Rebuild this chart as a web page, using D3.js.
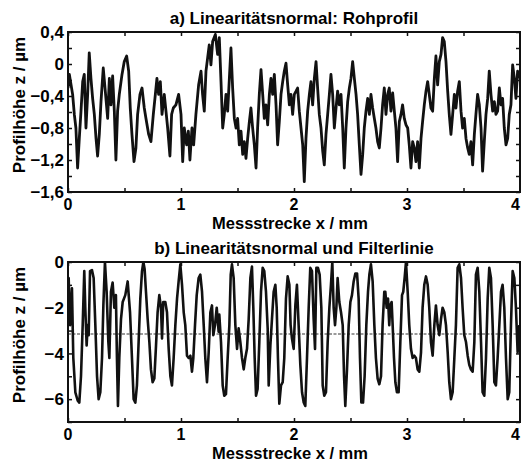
<!DOCTYPE html>
<html lang="de">
<head>
<meta charset="UTF-8">
<title>Linearitätsnormal</title>
<script src="https://cdn.jsdelivr.net/npm/d3@7/dist/d3.min.js"></script>
<style>
  body { margin: 0; background: #fff; }
  svg { display: block; font-family: "Liberation Sans", Arial, sans-serif; font-weight: bold; }
</style>
</head>
<body>
<script>
// a) Rohprofil: x in mm, z in µm
var rawX = [0,0.012,0.041,0.056,0.07,0.085,0.1,0.115,0.13,0.144,0.159,0.174,0.188,0.203,0.218,0.233,0.248,0.262,0.277,0.292,0.312,0.33,0.351,0.366,0.38,0.395,0.41,0.424,0.439,0.454,0.478,0.498,0.519,0.537,0.551,0.566,0.584,0.601,0.616,0.637,0.655,0.675,0.69,0.714,0.734,0.755,0.773,0.787,0.802,0.817,0.832,0.852,0.867,0.882,0.902,0.917,0.932,0.955,0.979,1.0,1.015,1.029,1.05,1.065,1.079,1.097,1.112,1.132,1.156,1.177,1.191,1.206,1.221,1.236,1.25,1.265,1.28,1.304,1.324,1.339,
  1.354,1.369,1.383,1.398,1.413,1.428,1.442,1.457,1.472,1.487,1.501,1.516,1.531,1.546,1.56,1.575,1.59,1.605,1.619,1.634,1.649,1.664,1.678,1.693,1.708,1.723,1.737,1.752,1.767,1.782,1.796,1.811,1.826,1.841,1.855,1.87,1.885,1.9,1.914,1.929,1.944,1.959,1.973,1.988,2.003,2.018,2.032,2.047,2.062,2.077,2.091,2.106,2.121,2.136,2.15,2.165,2.18,2.195,2.209,2.224,2.239,2.254,2.268,2.283,2.298,2.313,2.327,2.342,2.357,2.372,2.386,2.401,2.416,2.431,2.445,2.46,2.475,2.49,2.504,2.519,2.534,2.549,2.563,2.578,2.593,2.608,2.622,2.637,2.652,2.667,
  2.681,2.696,2.711,2.725,2.74,2.755,2.77,2.784,2.799,2.814,2.829,2.843,2.858,2.873,2.888,2.902,2.917,2.932,2.947,2.961,2.976,2.991,3.006,3.02,3.035,3.05,3.065,3.079,3.094,3.109,3.124,3.138,3.153,3.168,3.183,3.197,3.212,3.227,3.242,3.256,3.271,3.286,3.301,3.315,3.33,3.345,3.36,3.374,3.389,3.404,3.419,3.433,3.448,3.463,3.478,3.492,3.507,3.522,3.537,3.551,3.566,3.581,3.596,3.61,3.625,3.64,3.655,3.669,3.684,3.699,3.714,3.728,3.743,3.758,3.773,3.787,3.802,3.817,3.832,3.846,3.861,3.876,3.891,3.905,3.92,3.935,3.95,3.964,3.979,3.994];
var rawZ = [-0.3,-0.13,-0.38,-0.63,-0.8,-1.3,-0.93,-0.59,-0.22,-0.13,-0.8,-0.38,0.14,-0.18,-0.43,-0.63,-0.93,-1.15,-0.88,-0.47,-0.05,-0.34,-0.68,-0.18,-0.51,-0.15,-0.59,-1.2,-0.59,-0.38,-0.13,0.03,0.1,-0.09,-0.55,-0.88,-1.22,-1.05,-0.63,-0.38,-0.3,-0.55,-0.68,-0.88,-0.97,-0.63,-0.38,-0.18,-0.38,-0.22,-0.63,-0.38,-0.59,-0.8,-1.15,-0.63,-0.55,-0.51,-0.38,-0.63,-1.22,-0.8,-1.01,-0.84,-1.2,-0.8,-1.01,-0.63,-0.26,-0.09,-0.38,-0.59,-0.09,0.08,0.24,-0.01,0.28,0.37,0.12,0.33,
  -0.22,-0.8,-0.63,-0.38,-0.59,-0.18,0.2,-0.3,-0.68,-0.8,-0.68,-1.01,-0.84,-1.13,-0.97,-1.18,-0.93,-0.72,-0.55,-0.8,-1.01,-1.3,-0.8,-0.38,-0.07,-0.38,-0.68,-0.51,-0.76,-0.38,-0.18,-0.38,-0.13,-0.51,-1.01,-0.72,-0.38,-0.22,-0.09,0.01,-0.26,-0.51,-0.38,-0.63,-0.38,-0.34,-0.3,-0.59,-0.8,-1.01,-1.47,-0.93,-0.59,-0.38,-0.22,-0.51,-0.18,0.03,-0.3,-0.63,-0.8,-1.09,-1.26,-0.88,-0.63,-0.38,-0.13,-0.38,-0.8,-0.55,-0.34,-0.51,-0.38,-0.8,-1.3,-0.8,-0.47,-0.3,-0.18,0.03,-0.18,-0.38,-0.63,-1.01,-1.38,-1.13,-0.8,-0.59,-0.43,-0.63,
  -0.38,-0.55,-0.68,-0.8,-0.97,-1.05,-0.8,-0.51,-0.3,-0.63,-0.38,-0.3,-0.59,-0.36,-0.59,-0.8,-1.22,-0.72,-0.63,-0.51,-0.68,-0.76,-0.8,-1.01,-1.3,-0.97,-1.05,-1.22,-0.97,-1.3,-0.93,-0.72,-0.51,-0.34,-0.22,-0.38,-0.55,-0.59,-0.18,0.1,-0.26,0.03,0.12,0.33,0.28,0.03,-0.34,-0.63,-0.88,-0.63,-0.38,-0.55,-0.34,-0.22,-0.59,-0.8,-0.68,-0.93,-1.05,-1.13,-0.97,-1.26,-0.88,-0.63,-0.38,-0.51,-0.8,-1.34,-0.97,-0.63,-0.43,-0.09,-0.38,-0.59,-0.47,-0.63,-0.59,-0.3,-0.51,-0.43,-0.8,-1.01,-0.93,-0.63,-0.51,-0.01,-0.18,-0.43,-0.09,-0.18];

// b) Profil nach Filterung
var filtX = [0,0.006,0.018,0.035,0.047,0.065,0.086,0.1,0.115,0.13,0.144,0.153,0.165,0.174,0.183,0.195,0.212,0.227,0.242,0.257,0.271,0.286,0.301,0.313,0.327,0.342,0.357,0.366,0.38,0.395,0.41,0.424,0.433,0.442,0.454,0.469,0.484,0.507,0.528,0.549,0.566,0.581,0.596,0.61,0.625,0.64,0.655,0.667,0.678,0.69,0.705,0.72,0.734,0.749,0.764,0.779,0.793,0.808,0.823,0.832,0.843,0.861,0.876,0.891,0.906,0.92,0.935,0.95,0.965,0.979,0.994,1.009,1.024,1.038,1.053,1.068,1.083,1.097,1.109,1.124,1.139,1.156,1.171,1.186,1.201,1.215,1.23,1.245,1.26,1.274,1.286,1.301,1.316,1.333,
  1.339,1.354,1.369,1.383,1.398,1.413,1.428,1.44,1.451,1.466,1.481,1.496,1.51,1.525,1.54,1.555,1.569,1.584,1.599,1.614,1.628,1.64,1.652,1.664,1.678,1.693,1.708,1.723,1.737,1.752,1.767,1.776,1.791,1.805,1.82,1.835,1.847,1.858,1.87,1.885,1.9,1.914,1.929,1.944,1.959,1.97,1.982,1.997,2.012,2.026,2.041,2.056,2.071,2.086,2.1,2.115,2.13,2.144,2.159,2.174,2.186,2.198,2.212,2.227,2.242,2.254,2.268,2.283,2.298,2.313,2.327,2.339,2.351,2.363,2.375,2.386,2.401,2.416,2.431,2.443,2.454,2.469,2.484,2.499,2.513,2.528,2.543,2.558,2.572,2.584,2.596,2.611,2.625,2.64,2.655,2.667,
  2.681,2.696,2.711,2.725,2.74,2.755,2.77,2.784,2.799,2.808,2.82,2.832,2.843,2.852,2.864,2.873,2.885,2.897,2.911,2.926,2.941,2.956,2.967,2.979,2.991,3.006,3.02,3.035,3.05,3.065,3.079,3.094,3.109,3.124,3.138,3.153,3.168,3.183,3.197,3.212,3.227,3.242,3.256,3.271,3.286,3.301,3.315,3.33,3.345,3.36,3.374,3.389,3.404,3.419,3.433,3.448,3.463,3.478,3.492,3.507,3.522,3.537,3.551,3.566,3.581,3.596,3.61,3.625,3.64,3.655,3.669,3.684,3.699,3.714,3.728,3.743,3.758,3.773,3.787,3.802,3.817,3.832,3.846,3.861,3.876,3.891,3.905,3.92,3.935,3.95,3.964,3.979,3.994];
var filtZ = [-0.8,-0.7,-2.76,-1.15,-4.2,-5.7,-6.07,-6.15,-5.0,-2.76,-0.4,-2.0,-3.65,-2.76,-3.2,-0.4,-0.35,-0.7,-2.76,-5.0,-6.0,-5.7,-4.2,-1.9,0,-1.3,-3.5,-4.2,-1.3,-0.9,-2.0,-1.45,-4.2,-6.3,-4.2,-2.5,-1.75,-1.45,-0.85,-2.2,-4.2,-6.0,-6.15,-5.4,-3.5,-1.6,-0.4,0,-0.3,-1.3,-2.5,-3.5,-4.7,-5.26,-5.1,-3.65,-2.2,-1.45,-2.0,-3.35,-1.75,-1.75,-2.2,-3.8,-5.0,-5.4,-4.2,-2.76,-1.6,-0.85,-0.1,-1.0,-2.2,-2.76,-4.1,-4.2,-4.1,-4.8,-4.2,-2.76,-1.45,-0.7,-0.55,-1.3,-2.76,-4.2,-5.26,-3.95,-2.2,-1.9,-3.2,-2.76,-2.0,-3.05,
  -2.3,-3.5,-5.4,-5.85,-5.78,-4.2,-2.76,-0.55,-0.1,-0.7,-2.76,-3.8,-2.9,-3.5,-4.2,-4.7,-4.2,-3.8,-2.5,-0.7,-0.2,-2.0,-4.2,-5.85,-5.55,-3.5,-1.3,-0.25,-0.4,-1.3,-2.9,-5.4,-3.65,-2.5,-1.3,-1.0,-2.0,-4.2,-6.2,-5.4,-5.26,-4.2,-1.6,-0.63,-1.0,-2.76,-3.35,-3.8,-1.9,-1.0,-2.76,-4.5,-5.7,-6.15,-6.3,-4.2,-2.0,-0.25,-0.4,-2.5,-3.8,-0.25,-0.25,-0.55,-2.0,-5.4,-5.85,-5.7,-3.5,-2.0,-1.0,0,-2.0,-2.76,-2.0,-0.7,-1.75,-2.2,-2.76,-5.0,-6.3,-4.7,-2.76,-1.75,-1.45,-0.85,-0.5,-0.5,-1.6,-4.2,-6.15,-6.15,-5.0,-2.76,-1.3,-0.55,
  -0.1,-0.85,-2.76,-4.2,-5.1,-5.35,-5.0,-2.76,-1.3,-1.3,-2.0,-1.6,-2.76,-1.9,-1.75,-2.76,-4.2,-5.26,-5.7,-5.7,-3.5,-1.45,-1.3,-0.7,0,-1.3,-2.76,-3.8,-4.2,-4.1,-4.2,-4.7,-4.8,-3.95,-2.0,-1.0,-0.63,-1.0,-2.0,-3.5,-4.1,-2.76,-1.9,-2.76,-3.2,-2.5,-2.0,-2.2,-2.76,-3.95,-5.26,-6.0,-5.7,-4.2,-2.76,-0.25,-0.1,-0.7,-2.0,-3.2,-3.5,-4.1,-4.5,-4.7,-4.8,-3.5,-0.55,-0.25,-1.3,-3.5,-5.7,-5.85,-4.2,-1.6,-0.25,-0.7,-2.76,-5.26,-5.4,-4.2,-2.76,-1.3,-1.0,-2.0,-4.2,-6.0,-5.7,-2.76,-0.4,-0.7,-2.0,-3.95,-2.76];
var filterLevel = -3.15;

var xTicks = [0, 1, 2, 3, 4];
var yTicksA = [0.4, 0, -0.4, -0.8, -1.2, -1.6];
var yTicksB = [0, -2, -4, -6];
var titleA = "a) Linearitätsnormal: Rohprofil";
var titleB = "b) Linearitätsnormal und Filterlinie";
var xTitle = "Messstrecke x / mm";
var yTitle = "Profilhöhe z / µm";

var width = 521, height = 462;
var svg = d3.select("body").append("svg").attr("width", width).attr("height", height);

function fmt(v) {
  return d3.format("")(v).replace(".", ",").replace("-", "\u2212");
}

function panel(id, top, yDomain, yTicks, minorStep, xs, zs, title, lineW, filt) {
  var left = 68, right = 520, bottom = top + 160;
  var x = d3.scaleLinear().domain([0, 4]).range([left, right]);
  var y = d3.scaleLinear().domain(yDomain).range([bottom, top]);
  var g = svg.append("g");

  g.append("clipPath").attr("id", id).append("rect")
    .attr("x", left).attr("y", top).attr("width", right - left).attr("height", bottom - top);

  if (filt !== undefined) {
    g.append("line")
      .attr("x1", left).attr("x2", right).attr("y1", y(filt)).attr("y2", y(filt))
      .attr("stroke", "#7a7a7a").attr("stroke-width", 1.6).attr("stroke-dasharray", "3,1.5");
  }

  var pts = xs.map(function(d, i) { return [d, zs[i]]; });
  g.append("path").datum(pts)
    .attr("clip-path", "url(#" + id + ")")
    .attr("fill", "none").attr("stroke", "#111")
    .attr("stroke-width", lineW).attr("stroke-linejoin", "round")
    .attr("d", d3.line().x(function(d) { return x(d[0]); }).y(function(d) { return y(d[1]); }));

  // inward minor ticks on all sides
  var minorX = d3.range(0, 4.001, 0.5);
  var minorY = d3.range(yDomain[0], yDomain[1] + 1e-6, minorStep);
  g.append("g").attr("transform", "translate(0," + bottom + ")")
    .call(d3.axisBottom(x).tickValues(minorX).tickSize(-4).tickFormat(""));
  g.append("g").attr("transform", "translate(0," + top + ")")
    .call(d3.axisTop(x).tickValues(minorX).tickSize(-4).tickFormat(""));
  g.append("g").attr("transform", "translate(" + left + ",0)")
    .call(d3.axisLeft(y).tickValues(minorY).tickSize(-4).tickFormat(""));
  g.append("g").attr("transform", "translate(" + right + ",0)")
    .call(d3.axisRight(y).tickValues(minorY).tickSize(-4).tickFormat(""));
  g.selectAll(".domain").remove();
  g.selectAll(".tick line").attr("stroke", "#111").attr("stroke-width", 1.5);

  g.append("rect").attr("x", left).attr("y", top)
    .attr("width", right - left).attr("height", bottom - top)
    .attr("fill", "none").attr("stroke", "#111").attr("stroke-width", 2);

  // tick labels
  g.selectAll(".yl").data(yTicks).enter().append("text")
    .attr("x", left - 4).attr("y", function(d) { return y(d); })
    .attr("dy", "0.36em").attr("text-anchor", "end")
    .attr("font-size", 17).text(fmt);
  g.selectAll(".xl").data(xTicks).enter().append("text")
    .attr("x", function(d) { return x(d); }).attr("y", bottom + 18)
    .attr("text-anchor", function(d, i) { return i === xTicks.length - 1 ? "end" : "middle"; })
    .attr("font-size", 16).text(fmt);

  g.append("text").attr("x", 294).attr("y", top - 8)
    .attr("text-anchor", "middle").attr("font-size", 17).text(title);
  g.append("text").attr("x", 290).attr("y", bottom + 36.5)
    .attr("text-anchor", "middle").attr("font-size", 16.5).text(xTitle);
  g.append("text")
    .attr("transform", "translate(25," + ((top + bottom) / 2 - 7) + ") rotate(-90)")
    .attr("text-anchor", "middle").attr("font-size", 17).text(yTitle);
}

panel("clipA", 32, [-1.6, 0.4], yTicksA, 0.2, rawX, rawZ, titleA, 2.8);
panel("clipB", 262, [-7, 0], yTicksB, 1, filtX, filtZ, titleB, 2.6, filterLevel);
</script>
</body>
</html>
